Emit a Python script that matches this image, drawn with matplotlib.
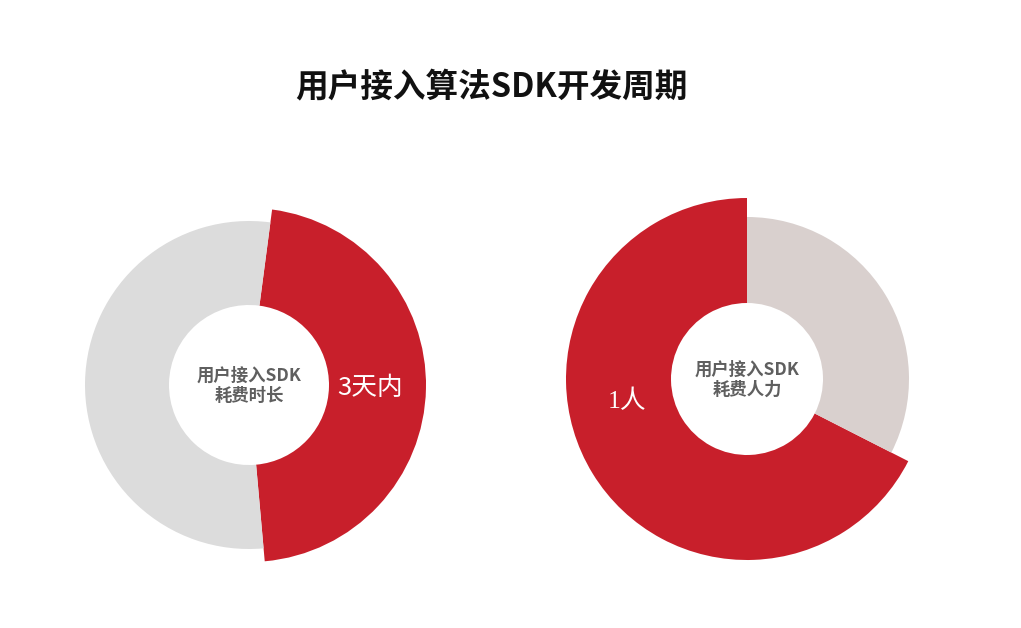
import matplotlib
matplotlib.use("Agg")
import matplotlib.pyplot as plt

plt.rcParams['font.family'] = ['Noto Sans CJK SC', 'DejaVu Sans']

# data
title = "用户接入算法SDK开发周期"
centre_texts = ["用户接入SDK\n耗费时长", "用户接入SDK\n耗费人力"]
value_texts = ["3天内", "1人"]
red_share = [46.5, 67.5]
grey_share = [53.5, 32.5]

W, H = 1021, 628
fig = plt.figure(figsize=(W / 100, H / 100), dpi=100)
ax = fig.add_axes([0, 0, 1, 1])

red = "#c81f2b"
greys = ["#dcdcdc", "#d9d0ce"]

# layout of the two rings, pixel units (y from top)
centres = [(249, 385), (747, 379)]
r_red = [177, 181]
r_grey = [164, 162]
r_hole = [80, 76]
starts = [82.5, 90]
ccw = [False, True]
value_pos = [(370, 388), (627, 401)]
value_fonts = [['Noto Sans CJK SC', 'DejaVu Sans'], ['Liberation Serif', 'Noto Sans CJK SC']]

for i in range(2):
    cx, cy = centres[i]
    wedges, _ = ax.pie([red_share[i], grey_share[i]], colors=[red, greys[i]],
                       startangle=starts[i], counterclock=ccw[i],
                       radius=r_red[i], center=(cx, H - cy),
                       wedgeprops=dict(width=r_red[i] - r_hole[i], linewidth=0))
    wedges[1].set_radius(r_grey[i])
    wedges[1].set_width(r_grey[i] - r_hole[i])

    ax.text(cx, H - cy - 1, centre_texts[i], ha='center', va='center',
            fontsize=12.5, fontweight='bold', color='#5f5f5f', linespacing=1.15)
    vx, vy = value_pos[i]
    ax.text(vx, H - vy, value_texts[i], ha='center', va='center',
            fontsize=18.5, color='white', family=value_fonts[i])

ax.text(491, H - 87, title, ha='center', va='center', fontsize=23.5,
        fontweight='bold', color='#111111')

ax.set_xlim(0, W)
ax.set_ylim(0, H)
ax.set_aspect('equal')
ax.axis('off')

fig.savefig("out.png", dpi=100, facecolor='white')
